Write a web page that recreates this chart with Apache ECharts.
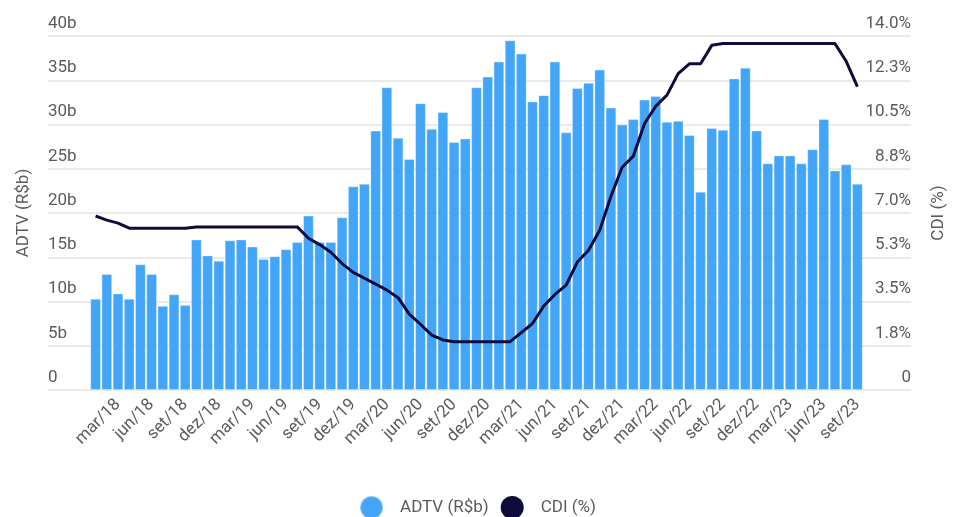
<!DOCTYPE html>
<html>
<head>
<meta charset="utf-8">
<script src="https://cdn.jsdelivr.net/npm/echarts@6/dist/echarts.min.js"></script>
<style>
  html, body { margin: 0; padding: 0; background: #fff; }
  #chart { width: 955px; height: 517px; }
</style>
</head>
<body>
<div id="chart"></div>
<script>
// meses jan/18 .. set/23
const meses = [
  'jan/18','fev/18','mar/18','abr/18','mai/18','jun/18','jul/18','ago/18','set/18','out/18','nov/18','dez/18',
  'jan/19','fev/19','mar/19','abr/19','mai/19','jun/19','jul/19','ago/19','set/19','out/19','nov/19','dez/19',
  'jan/20','fev/20','mar/20','abr/20','mai/20','jun/20','jul/20','ago/20','set/20','out/20','nov/20','dez/20',
  'jan/21','fev/21','mar/21','abr/21','mai/21','jun/21','jul/21','ago/21','set/21','out/21','nov/21','dez/21',
  'jan/22','fev/22','mar/22','abr/22','mai/22','jun/22','jul/22','ago/22','set/22','out/22','nov/22','dez/22',
  'jan/23','fev/23','mar/23','abr/23','mai/23','jun/23','jul/23','ago/23','set/23'
]

// ADTV (R$ bilhões)
const adtv = [
  10.3, 13.1, 10.9, 10.3, 14.2, 13.1, 9.5, 10.8, 9.6, 17.0, 15.2, 14.6,
  16.9, 17.0, 16.2, 14.8, 15.1, 15.9, 16.7, 19.7, 16.7, 16.7, 19.5, 23.0,
  23.3, 29.3, 34.2, 28.5, 26.1, 32.4, 29.5, 31.4, 28.0, 28.4, 34.2, 35.4,
  37.1, 39.5, 38.0, 32.6, 33.3, 37.1, 29.1, 34.1, 34.7, 36.2, 31.9, 30.0,
  30.6, 32.8, 33.2, 30.3, 30.4, 28.8, 22.4, 29.6, 29.4, 35.2, 36.4, 29.3,
  25.6, 26.5, 26.5, 25.6, 27.2, 30.6, 24.8, 25.5, 23.3
]

// CDI (% a.a.)
const cdi = [
  6.88, 6.72, 6.6, 6.4, 6.4, 6.4, 6.4, 6.4, 6.4, 6.45, 6.45, 6.45,
  6.45, 6.45, 6.45, 6.45, 6.45, 6.45, 6.45, 6.0, 5.75, 5.45, 5.0, 4.65,
  4.42, 4.19, 3.95, 3.65, 3.0, 2.6, 2.17, 1.98, 1.91, 1.91, 1.91, 1.91,
  1.91, 1.91, 2.27, 2.63, 3.32, 3.78, 4.15, 5.06, 5.53, 6.32, 7.66, 8.81,
  9.25, 10.54, 11.22, 11.66, 12.51, 12.9, 12.9, 13.63, 13.7, 13.7, 13.7, 13.7,
  13.7, 13.7, 13.7, 13.7, 13.7, 13.7, 13.7, 13.0, 12.0
]

const textColor = '#5b5b5b'
const font = 'Roboto'
const fs = 17

const myChart = echarts.init(document.getElementById('chart'))
const option = {
  textStyle: { fontFamily: font },
  animation: false,
  legend: {
    top: 490,
    left: 'center',
    icon: 'circle',
    itemWidth: 23,
    itemHeight: 23,
    itemGap: 12,
    textStyle: { fontSize: fs, color: textColor, fontFamily: font, padding: [0, 0, 0, 12] },
    data: ['ADTV (R$b)', 'CDI (%)']
  },
  grid: [
    { left: 90, right: 92, top: 36, bottom: 127 },
    { left: 48, right: 38, top: 36, bottom: 127 }
  ],
  xAxis: [
    {
      type: 'category',
      gridIndex: 0,
      data: meses,
      axisLine: { show: false },
      axisTick: { show: false },
      axisLabel: {
        rotate: 45,
        margin: 12,
        fontSize: fs,
        color: textColor,
        interval: (i) => i % 3 === 2
      }
    },
    { type: 'value', gridIndex: 1, show: false, min: 0, max: 1 }
  ],
  yAxis: [
    { type: 'value', gridIndex: 0, min: 0, max: 40, show: false },
    { type: 'value', gridIndex: 0, min: 0, max: 14, show: false },
    {
      type: 'value',
      gridIndex: 1,
      position: 'left',
      min: 0,
      max: 40,
      interval: 5,
      name: 'ADTV (R$b)',
      nameLocation: 'middle',
      nameGap: 16,
      nameTextStyle: { fontSize: fs, color: textColor },
      axisLine: { show: false },
      axisTick: { show: false },
      splitLine: { lineStyle: { color: '#e3e3e3', width: 1.5 } },
      axisLabel: {
        inside: true,
        margin: 0,
        align: 'left',
        verticalAlign: 'bottom',
        padding: [0, 0, 4, 0],
        fontSize: fs,
        color: textColor,
        formatter: (v) => v === 0 ? '0' : v + 'b'
      }
    },
    {
      type: 'value',
      gridIndex: 1,
      position: 'right',
      min: 0,
      max: 14,
      interval: 1.75,
      name: 'CDI (%)',
      nameLocation: 'middle',
      nameGap: 19,
      nameTextStyle: { fontSize: fs, color: textColor },
      axisLine: { show: false },
      axisTick: { show: false },
      splitLine: { show: false },
      axisLabel: {
        inside: true,
        margin: 0,
        align: 'right',
        verticalAlign: 'bottom',
        padding: [0, 0, 4, 0],
        fontSize: fs,
        color: textColor,
        formatter: (v) => v === 0 ? '0' : v.toFixed(1) + '%'
      }
    }
  ],
  series: [
    {
      name: 'ADTV (R$b)',
      type: 'bar',
      xAxisIndex: 0,
      yAxisIndex: 0,
      data: adtv,
      barCategoryGap: '6%',
      itemStyle: { color: '#42a5f8', borderColor: 'rgba(255,255,255,0.4)', borderWidth: 0.8 }
    },
    {
      name: 'CDI (%)',
      type: 'line',
      xAxisIndex: 0,
      yAxisIndex: 1,
      data: cdi,
      showSymbol: false,
      symbol: 'circle',
      lineStyle: { color: '#0f0c3c', width: 3 },
      itemStyle: { color: '#0f0c3c' }
    }
  ]
}
myChart.setOption(option)
</script>
</body>
</html>
